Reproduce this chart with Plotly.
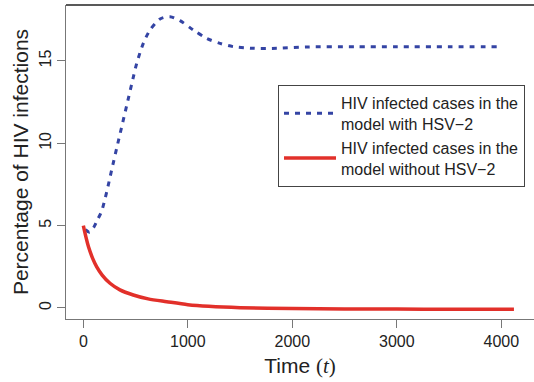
import plotly.graph_objects as go

# Data
t_with = [20, 60, 100, 134, 176, 224, 271, 319, 367, 415, 463, 511, 574, 638, 734, 830,
          925, 1053, 1181, 1308, 1435, 1627, 1850, 2138, 2600, 3000, 3500, 3956]
v_with = [4.75, 4.6, 4.9, 5.34, 5.9, 7.06, 8.38, 9.7, 11.0, 12.3, 13.6, 14.86, 16.07, 16.88, 17.55, 17.69,
          17.45, 16.88, 16.37, 16.07, 15.87, 15.77, 15.77, 15.85, 15.86, 15.86, 15.86, 15.86]

t_without = [0, 25, 50, 90, 128, 180, 255, 350, 478, 620, 798, 1000, 1200, 1500, 2000,
             2500, 3000, 3500, 4121]
v_without = [5.0, 4.3, 3.7, 3.0, 2.5, 2.0, 1.5, 1.1, 0.79, 0.55, 0.38, 0.2, 0.1, 0.02, -0.03,
             -0.06, -0.07, -0.08, -0.08]

name_with = "HIV infected cases in the<br>model with HSV\u22122"
name_without = "HIV infected cases in the<br>model without HSV\u22122"

x_ticks = [0, 1000, 2000, 3000, 4000]
y_ticks = [0, 5, 10, 15]

FONT = "Liberation Sans, Arial, Helvetica, sans-serif"

fig = go.Figure()
fig.add_trace(go.Scatter(
    x=t_with, y=v_with, mode="lines", name=name_with,
    line=dict(color="#3444a4", width=3, dash="5px,6px", shape="spline", smoothing=0.8),
))
fig.add_trace(go.Scatter(
    x=t_without, y=v_without, mode="lines", name=name_without,
    line=dict(color="#e2302a", width=3.5, shape="spline", smoothing=0.8),
))

fig.update_layout(
    width=534, height=382,
    margin=dict(l=66, r=0, t=5, b=63),
    paper_bgcolor="white", plot_bgcolor="white",
    font=dict(family=FONT, color="#222222"),
    showlegend=True,
    legend=dict(
        x=0.453, y=0.745, xanchor="left", yanchor="top",
        bordercolor="#444444", borderwidth=1, bgcolor="white",
        font=dict(size=16, family=FONT, color="#222222"),
        itemwidth=52, tracegroupgap=0,
    ),
    xaxis=dict(
        range=[-166, 4313], tickvals=x_ticks,
        showgrid=False, zeroline=False,
        showline=True, linecolor="#777777", linewidth=1,
        ticks="outside", ticklen=8, tickcolor="#777777", tickwidth=1,
        tickfont=dict(size=16, color="#222222"),
        title=dict(text="Time <span style=\"font-family:'Liberation Serif'\">(<i>t</i>)</span>",
                   font=dict(size=21, color="#222222"), standoff=9),
    ),
    yaxis=dict(
        range=[-0.67, 18.4], tickvals=y_ticks,
        showgrid=False, zeroline=False,
        showline=True, linecolor="#777777", linewidth=1,
        ticks="outside", ticklen=8, tickcolor="#777777", tickwidth=1,
        tickangle=-90,
        tickfont=dict(size=16, color="#222222"),
        title=dict(text="Percentage of HIV infections",
                   font=dict(size=21, color="#222222"), standoff=2),
    ),
    shapes=[dict(type="line", xref="paper", yref="paper", x0=0, x1=1, y0=1, y1=1,
                 line=dict(color="#222222", width=1.5))],
)

fig.write_html("out.html")
